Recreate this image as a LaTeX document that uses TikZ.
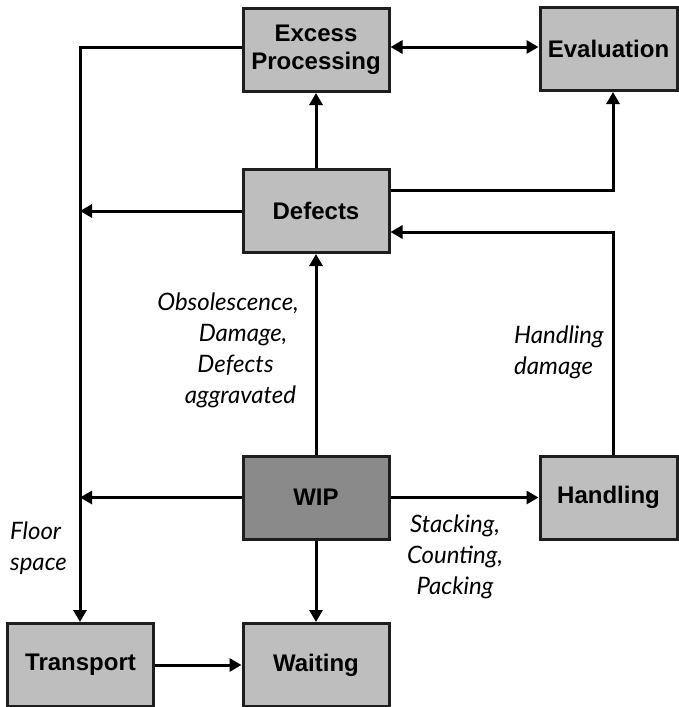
\documentclass[tikz,border=0pt]{standalone}
\usepackage{fontspec}
\setmainfont{Liberation Sans}
\newfontfamily\handfont{Lato}
\usetikzlibrary{arrows.meta}
\definecolor{boxgray}{RGB}{190,190,190}
\definecolor{wipgray}{RGB}{138,138,138}
\definecolor{edgegray}{RGB}{30,30,30}
\begin{document}
\begin{tikzpicture}[x=1pt,y=-1pt,
  wastebox/.style={draw=edgegray,line width=3pt,fill=boxgray,minimum width=146pt,minimum height=83pt,inner sep=0pt,align=center,font=\fontsize{24}{28}\selectfont\bfseries},
  wipbox/.style={wastebox,fill=wipgray},
  link/.style={line width=3pt,draw=black},
  arr/.style={link,-{Triangle[length=12pt,width=13pt]}},
  darr/.style={link,{Triangle[length=12pt,width=13pt]}-{Triangle[length=12pt,width=13pt]}},
  hand/.style={font=\handfont\itshape\fontsize{24}{31}\selectfont,inner sep=0pt}
]
\useasboundingbox (0,0) rectangle (679,707);
\node[wastebox] (excess) at (316,50) {Excess\\Processing};
\node[wastebox,minimum width=137pt] (eval) at (608.5,49) {Evaluation};
\node[wastebox] (defects) at (316,211) {Defects};
\node[wipbox] (wip) at (316,497.5) {WIP};
\node[wastebox,minimum width=137pt] (handling) at (608.5,497.5) {Handling};
\node[wastebox] (transport) at (80.5,665) {Transport};
\node[wastebox] (waiting) at (316,665) {Waiting};

\coordinate (lt) at (80,47);
\coordinate (ld) at (80,211);
\coordinate (lw) at (80,497.5);
\coordinate (de) at (613,190);
\coordinate (hd) at (613,232);

\draw[darr] (excess.east |- 0,47) -- (eval.west |- 0,47);
\draw[arr] (excess.west |- 0,47) -- (lt) -- (transport.north -| lt);
\draw[arr] (defects.west) -- (ld);
\draw[arr] (wip.west) -- (lw);
\draw[arr] (defects.north) -- (excess.south);
\draw[arr] (defects.east |- de) -- (de) -- (eval.south -| de);
\draw[arr] (handling.north -| hd) -- (hd) -- (defects.east |- hd);
\draw[arr] (wip.north) -- (defects.south);
\draw[arr] (wip.east) -- (handling.west);
\draw[arr] (wip.south) -- (waiting.north);
\draw[arr] (transport.east) -- (waiting.west);

\node[hand,align=center] (lobs) at (228,350) {Obsolescence,\\ \hspace*{30pt}Damage,\\ \hspace*{15pt}Defects\\ \hspace*{25pt}aggravated};
\node[hand,align=left,anchor=west] (lhand) at (514,352) {Handling\\damage};
\node[hand,align=left,anchor=west] (lfloor) at (10,548) {Floor\\space};
\node[hand,align=center] (lstack) at (455,557) {Stacking,\\Counting,\\Packing};
\end{tikzpicture}
\end{document}
